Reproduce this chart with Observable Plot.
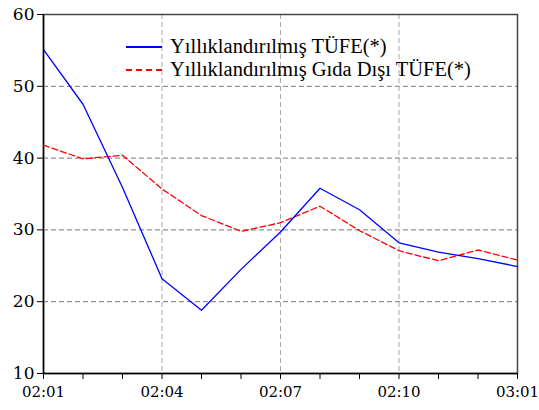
<!DOCTYPE html>
<html><head><meta charset="utf-8">
<script src="https://cdn.jsdelivr.net/npm/d3@7"></script>
<script src="https://cdn.jsdelivr.net/npm/@observablehq/plot@0.6"></script>
<style>
body{margin:0;background:#fff;}
#wrap{position:relative;width:539px;height:410px;}
#legend{position:absolute;left:126px;top:35px;font-family:"Liberation Serif",serif;font-size:20.5px;color:#000;line-height:23px;}
.row{display:flex;align-items:center;}
.sw{width:36px;height:0;margin-right:8px;}
</style>
</head><body>
<div id="wrap"><div id="legend"></div></div>
<script>
const months = ["02:01","02:02","02:03","02:04","02:05","02:06","02:07","02:08","02:09","02:10","02:11","02:12","03:01"];
const tufe = [55.1,47.5,35.9,23.2,18.8,24.5,29.7,35.8,32.8,28.2,26.9,26.0,24.9];
const gidaDisi = [41.8,39.9,40.4,35.7,32.0,29.8,31.0,33.3,29.9,27.1,25.7,27.2,25.8];
const seriesNames = ["Yıllıklandırılmış TÜFE(*)","Yıllıklandırılmış Gıda Dışı TÜFE(*)"];
const yTicks = [10,20,30,40,50,60];
const labeledIdx = [0,3,6,9,12];

const idx = months.map((m,i)=>i);
const font = "DejaVu Serif, serif";
const chart = Plot.plot({
  width:539, height:410,
  marginLeft:43, marginRight:22, marginTop:14, marginBottom:37,
  style:{fontFamily:font, fontSize:"15px", background:"#fff", color:"#000", overflow:"visible"},
  x:{type:"linear", domain:[0,12]},
  y:{domain:[10,60]},
  marks:[
    Plot.ruleY([20,30,40,50],{stroke:"#777",strokeDasharray:"5,3",strokeWidth:1}),
    Plot.ruleX([3,6,9],{stroke:"#aaa",strokeDasharray:"5,3",strokeWidth:1}),
    Plot.frame({stroke:"#444",strokeWidth:1.5}),
    Plot.ruleX([0],{stroke:"#000",strokeWidth:1.5}),
    Plot.ruleY([10],{stroke:"#000",strokeWidth:1.5}),
    Plot.axisY(yTicks,{tickSize:6,tickPadding:3,fontSize:17,fontFamily:font,stroke:"#000"}),
    Plot.axisX(idx,{tickSize:6,tickPadding:7,fontSize:15,fontFamily:font,stroke:"#000",
      tickFormat:(d)=>labeledIdx.includes(d)?months[d]:""}),
    Plot.line(idx,{x:d=>d,y:d=>gidaDisi[d],stroke:"#ff0000",strokeWidth:1.3,strokeDasharray:"6,3"}),
    Plot.line(idx,{x:d=>d,y:d=>tufe[d],stroke:"#0000ff",strokeWidth:1.3})
  ]
});
const wrap = document.getElementById("wrap");
wrap.insertBefore(chart, wrap.firstChild);
const legend = document.getElementById("legend");
const styles = ["2px solid #0000ff","2px dashed #ff0000"];
seriesNames.forEach((n,i)=>{
  const r=document.createElement("div");r.className="row";
  const s=document.createElement("div");s.className="sw";s.style.borderTop=styles[i];
  const t=document.createElement("span");t.textContent=n;
  r.appendChild(s);r.appendChild(t);legend.appendChild(r);
});
</script>
</body></html>
